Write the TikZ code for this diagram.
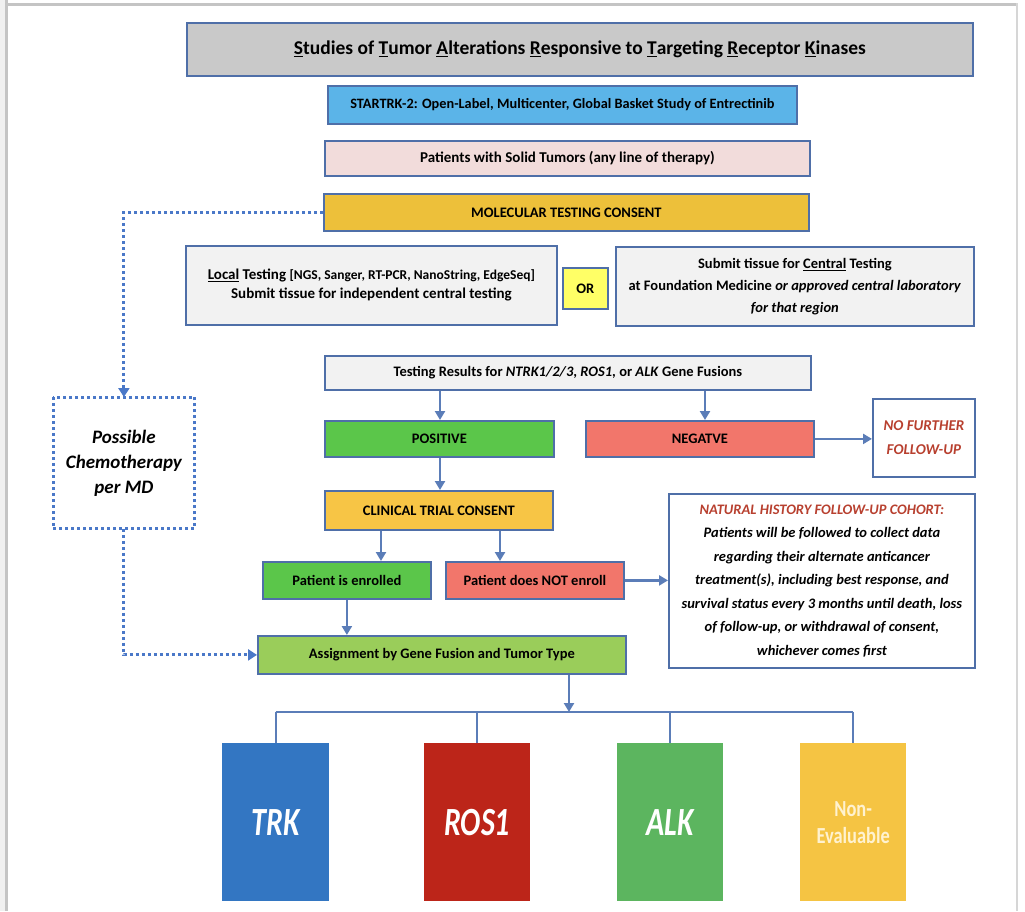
\documentclass[tikz,border=0pt]{standalone}
\usepackage{fontspec}
\setmainfont{Carlito}
\usetikzlibrary{arrows.meta}
\definecolor{bord}{HTML}{4F6FA8}
\definecolor{arrc}{HTML}{5B7DB8}
\definecolor{dotc}{HTML}{4A78C8}
\definecolor{titlefill}{HTML}{C9C9C9}
\definecolor{startfill}{HTML}{5BB4E8}
\definecolor{patfill}{HTML}{F2DCDB}
\definecolor{molfill}{HTML}{EDC03A}
\definecolor{lightfill}{HTML}{F2F2F2}
\definecolor{orfill}{HTML}{FFFF66}
\definecolor{posfill}{HTML}{5BC64A}
\definecolor{negfill}{HTML}{F2766B}
\definecolor{clinfill}{HTML}{F7C545}
\definecolor{assignfill}{HTML}{9ACD5A}
\definecolor{trkfill}{HTML}{3376C2}
\definecolor{rosfill}{HTML}{BC2519}
\definecolor{alkfill}{HTML}{5CB55F}
\definecolor{nevfill}{HTML}{F5C443}
\definecolor{nevtxt}{HTML}{FFF2D0}
\definecolor{redtxt}{HTML}{B8402F}
\definecolor{framegray}{HTML}{C4C4C4}
\definecolor{framelight}{HTML}{F0F0F0}
\begin{document}
\begin{tikzpicture}[x=1pt,y=-1pt,
  box/.style={draw=bord, line width=1.8pt, inner sep=2pt, align=center, anchor=north west,
    font=\bfseries\fontsize{14.5}{18}\selectfont, text=black},
  bar/.style={anchor=north west, inner sep=0pt, align=center, text=white,
    font=\bfseries\itshape\fontsize{40}{44}\selectfont},
  arr/.style={draw=arrc, line width=2.4pt, -{Triangle[length=9pt,width=10pt]}},
  busline/.style={draw=arrc, line width=2pt},
  dotline/.style={draw=dotc, line width=3pt, dash pattern=on 3pt off 3pt},
  dotarr/.style={dotline, -{Triangle[length=9pt,width=11pt]}}]
\useasboundingbox (0,0) rectangle (1025,911);
\fill[white] (0,0) rectangle (1025,911);
% frame
\fill[framelight] (0,0) rectangle (5,911);
\fill[framegray] (5,0) rectangle (8,911);
\fill[framegray] (5,3) rectangle (1018,6);
\fill[framegray!70] (1016,3) rectangle (1018,911);

% boxes
\node[box, fill=titlefill, minimum width=786pt, minimum height=53pt, font=\bfseries\fontsize{19.5}{22}\selectfont] (title) at (186,22)
  {\underline{S}tudies of \underline{T}umor \underline{A}lterations \underline{R}esponsive to \underline{T}argeting \underline{R}eceptor \underline{K}inases};
\node[box, fill=startfill, minimum width=469pt, minimum height=38pt, font=\bfseries\fontsize{14.3}{18}\selectfont] (start) at (327,85)
  {STARTRK-2: Open-Label, Multicenter, Global Basket Study of Entrectinib};
\node[box, fill=patfill, minimum width=485pt, minimum height=35pt, font=\bfseries\fontsize{15}{18}\selectfont] (pat) at (324,140)
  {Patients with Solid Tumors (any line of therapy)};
\node[box, fill=molfill, minimum width=485pt, minimum height=37pt] (mol) at (323,193)
  {MOLECULAR TESTING CONSENT};
\node[box, fill=lightfill, minimum width=371pt, minimum height=79pt, font=\bfseries\fontsize{15}{19}\selectfont] (local) at (185,245)
  {\underline{Local} Testing {\fontsize{13.5}{15}\selectfont[NGS, Sanger, RT-PCR, NanoString, EdgeSeq]}\\Submit tissue for independent central testing};
\node[box, fill=orfill, minimum width=45pt, minimum height=41pt] (or) at (562,267) {OR};
\node[box, fill=lightfill, minimum width=358pt, minimum height=79pt, font=\bfseries\fontsize{14.5}{22}\selectfont] (central) at (615,246)
  {Submit tissue for \underline{Central} Testing\\at Foundation Medicine \textit{or approved central laboratory}\\\textit{for that region}};
\node[box, fill=lightfill, minimum width=486pt, minimum height=34pt] (res) at (324,355)
  {Testing Results for \textit{NTRK1/2/3}, \textit{ROS1}, or \textit{ALK} Gene Fusions};
\node[box, fill=posfill, minimum width=229pt, minimum height=36pt] (pos) at (324,420) {POSITIVE};
\node[box, fill=negfill, minimum width=228pt, minimum height=36pt] (neg) at (585,420) {NEGATVE};
\node[box, fill=white, minimum width=102pt, minimum height=78pt, text=redtxt, font=\bfseries\itshape\fontsize{15}{24}\selectfont] (nofu) at (872,398)
  {NO FURTHER\\FOLLOW-UP};
\node[box, fill=clinfill, minimum width=228pt, minimum height=39pt] (clin) at (324,490) {CLINICAL TRIAL CONSENT};
\node[box, fill=posfill, minimum width=168pt, minimum height=37pt] (enr) at (262,561) {Patient is enrolled};
\node[box, fill=negfill, minimum width=178pt, minimum height=37pt] (nenr) at (445,561) {Patient does NOT enroll};
\node[box, fill=white, minimum width=306pt, minimum height=174pt, font=\bfseries\itshape\fontsize{14.5}{23.5}\selectfont] (nat) at (668,493)
  {{\color{redtxt}NATURAL HISTORY FOLLOW-UP COHORT:}\\
   Patients will be followed to collect data\\
   regarding their alternate anticancer\\
   treatment(s), including best response, and\\
   survival status every 3 months until death, loss\\
   of follow-up, or withdrawal of consent,\\
   whichever comes first};
\node[box, fill=assignfill, minimum width=368pt, minimum height=38pt] (assign) at (257,635)
  {Assignment by Gene Fusion and Tumor Type};
\node[box, draw=none, fill=white, minimum width=140pt, minimum height=130pt, font=\bfseries\itshape\fontsize{19}{25}\selectfont] (chemo) at (53,397)
  {Possible\\Chemotherapy\\per MD};
\draw[dotline] (chemo.north west) rectangle (chemo.south east);

% result bars
\node[bar, fill=trkfill, minimum width=107pt, minimum height=158pt] (trk) at (222,743) {\scalebox{0.75}[1]{TRK}};
\node[bar, fill=rosfill, minimum width=106pt, minimum height=158pt] (ros) at (424,743) {\scalebox{0.75}[1]{ROS1}};
\node[bar, fill=alkfill, minimum width=106pt, minimum height=158pt] (alk) at (617,743) {\scalebox{0.75}[1]{ALK}};
\node[bar, fill=nevfill, minimum width=106pt, minimum height=158pt, text=nevtxt, font=\bfseries\fontsize{23}{27}\selectfont] (nev) at (800,743)
  {\scalebox{0.8}[1]{Non-}\\\scalebox{0.8}[1]{Evaluable}};

% helper coordinates
\coordinate (xa) at (381,0);
\coordinate (xb) at (500,0);
\coordinate (xc) at (440,0);
\coordinate (xd) at (705,0);
\coordinate (bus) at (569,712);

% connectors
\draw[arr] (res.south -| xc) -- (pos.north -| xc);
\draw[arr] (res.south -| xd) -- (neg.north -| xd);
\draw[arr] (pos.south -| xc) -- (clin.north -| xc);
\draw[arr] (neg.east) -- (nofu.west |- neg.east);
\draw[arr] (clin.south -| xa) -- (enr.north -| xa);
\draw[arr] (clin.south -| xb) -- (nenr.north -| xb);
\draw[arr] (enr.south) -- (assign.north -| enr.south);
\draw[arr] (nenr.east) -- (nat.west |- nenr.east);
\draw[busline] (trk.north |- bus) -- (nev.north |- bus);
\draw[busline] (trk.north |- bus) -- (trk.north);
\draw[busline] (ros.north |- bus) -- (ros.north);
\draw[busline] (alk.north |- bus) -- (alk.north);
\draw[busline] (nev.north |- bus) -- (nev.north);
\draw[arr] (assign.south -| bus) -- (bus);

% dotted connectors
\draw[dotarr] (mol.west) -- (chemo.north |- mol.west) -- (chemo.north);
\draw[dotarr] (chemo.south) -- (chemo.south |- assign.west) -- (assign.west);
\end{tikzpicture}
\end{document}
